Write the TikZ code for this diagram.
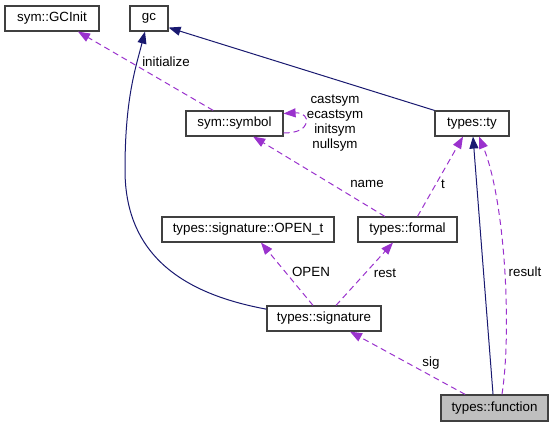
\documentclass[tikz,border=0pt]{standalone}
\usepackage{fontspec}
\setmainfont{Liberation Sans}
\usetikzlibrary{arrows.meta}
\definecolor{navyedge}{HTML}{191970}
\definecolor{purpedge}{HTML}{9A32CD}
\definecolor{boxborder}{HTML}{404040}
\definecolor{boxgray}{HTML}{BFBFBF}
\begin{document}
\begin{tikzpicture}[x=0.75pt,y=-0.75pt,
  box/.style={draw=boxborder,line width=0.9pt,fill=white,inner sep=0pt,minimum height=18.75pt,font=\fontsize{10}{12}\selectfont},
  lbl/.style={inner sep=0pt,font=\fontsize{10}{11.25}\selectfont,align=center},
  inherit/.style={draw=navyedge,line width=0.75pt,-{Triangle[length=9pt,width=6.75pt]}},
  usage/.style={draw=purpedge,line width=0.75pt,dash pattern=on 4.5pt off 3pt,-{Triangle[length=9pt,width=6.75pt]}}]
\useasboundingbox (0,0) rectangle (554,427);
\node[box,minimum width=70.5pt] (gcinit) at (52,18.5) {sym::GCInit};
\node[box,minimum width=28.5pt] (gc) at (149,18.5) {gc};
\node[box,minimum width=72.75pt] (symbol) at (234.5,123.5) {sym::symbol};
\node[box,minimum width=55.5pt] (ty) at (472,123.5) {types::ty};
\node[box,minimum width=129pt] (opent) at (248,229.5) {types::signature::OPEN\_t};
\node[box,minimum width=74.25pt] (formal) at (407.5,229.5) {types::formal};
\node[box,minimum width=85.5pt] (signature) at (324,318.5) {types::signature};
\node[box,minimum width=80.25pt,minimum height=19.5pt,fill=boxgray] (function) at (494.5,408) {types::function};

% inheritance edges
\draw[inherit] (ty.north west) -- ([yshift=3pt]gc.south east);
\draw[inherit] ([yshift=7pt]signature.west) .. controls (190,295) and (125,260) .. (125,170)
  .. controls (125,100) and (135,70) .. ([xshift=-3pt]gc.south);
\draw[inherit] ([xshift=-1.1pt]function.north) -- ([xshift=0.75pt]ty.south);

% usage edges
\draw[usage] ([xshift=-16pt]symbol.north) -- ([xshift=19.5pt]gcinit.south);
\draw[usage] ([yshift=-7pt]symbol.east) .. controls (312,134) and (312,112) .. ([yshift=7.5pt]symbol.east);
\draw[usage] ([xshift=-17pt]formal.north) -- ([xshift=14pt]symbol.south);
\draw[usage] ([xshift=7.5pt]formal.north) -- ([xshift=-6.75pt]ty.south);
\draw[usage] ([xshift=5.6pt]function.north) .. controls (512,330) and (505,200) .. ([xshift=5.25pt]ty.south);
\draw[usage] ([xshift=-8.25pt]signature.north) -- ([xshift=9.75pt]opent.south);
\draw[usage] ([xshift=9pt]signature.north) -- ([xshift=-10.9pt]formal.south);
\draw[usage] ([xshift=-22pt]function.north) -- ([xshift=19.5pt]signature.south);

% labels
\node[lbl] (linit) at (166,62) {initialize};
\node[lbl] (lloop) at (335,123) {castsym\\ecastsym\\initsym\\nullsym};
\node[lbl] (lname) at (367,184) {name};
\node[lbl] (lt) at (443,184) {t};
\node[lbl] (lopen) at (311,272) {OPEN};
\node[lbl] (lrest) at (385,273) {rest};
\node[lbl] (lresult) at (525,272) {result};
\node[lbl] (lsig) at (431,363) {sig};
\end{tikzpicture}
\end{document}
